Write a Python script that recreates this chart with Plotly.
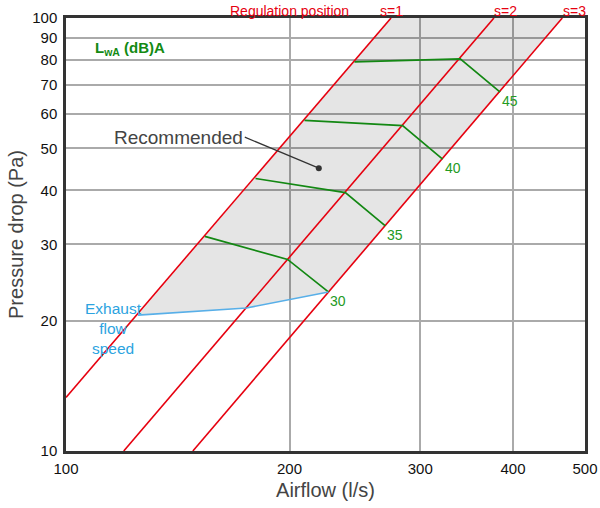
import math
import plotly.graph_objects as go

# Airflow (l/s) and pressure drop (Pa) end points of the regulation position lines
reg_labels = ["s=1", "s=2", "s=3"]
reg_q = [[100, 274], [119.6, 377], [148.2, 466]]
reg_p = [[13.3, 100], [10, 100], [10, 100]]

# Exhaust flow speed limit (lower edge of the recommended area)
exhaust_q = [125, 175, 225.6]
exhaust_p = [20.6, 21.4, 23.3]

# Sound power level curves LwA, dB(A): points on s=1, s=2, s=3
lwa_levels = ["30", "35", "40", "45"]
lwa_q = [
    [153.8, 198.8, 225.6],
    [180.0, 237.8, 269.2],
    [209.5, 284.0, 321.5],
    [244.6, 339.6, 384.3],
]
lwa_p = [
    [31.3, 27.7, 23.3],
    [42.6, 39.5, 33.1],
    [58.0, 56.4, 47.2],
    [79.2, 80.5, 67.4],
]

# Recommended operating point
rec_q = [219]
rec_p = [45]

x_ticks = [100, 200, 300, 400, 500]
y_ticks = [10, 20, 30, 40, 50, 60, 70, 80, 90, 100]

RED = "#e6000f"
GREEN_LINE = "#138813"
GREEN_TEXT = "#239a23"
BLUE_LINE = "#58afe8"
BLUE_TEXT = "#2ba3e0"
FONT = "Liberation Sans, Arial, Helvetica, sans-serif"

fig = go.Figure()

# Shaded recommended area: between s=1 and s=3, above the exhaust limit
area_q = exhaust_q[:1] + [reg_q[0][1], reg_q[2][1]] + exhaust_q[::-1]
area_p = exhaust_p[:1] + [reg_p[0][1], reg_p[2][1]] + exhaust_p[::-1]
fig.add_trace(go.Scatter(
    x=area_q, y=area_p, mode="lines", fill="toself",
    fillcolor="rgba(0,0,0,0.10)", line=dict(width=0),
    hoverinfo="skip", showlegend=False,
))

for q, p in zip(reg_q, reg_p):
    fig.add_trace(go.Scatter(
        x=q, y=p, mode="lines", line=dict(color=RED, width=1.6),
        hoverinfo="skip", showlegend=False,
    ))

for q, p in zip(lwa_q, lwa_p):
    fig.add_trace(go.Scatter(
        x=q, y=p, mode="lines", line=dict(color=GREEN_LINE, width=1.7),
        hoverinfo="skip", showlegend=False,
    ))

fig.add_trace(go.Scatter(
    x=exhaust_q, y=exhaust_p, mode="lines",
    line=dict(color=BLUE_LINE, width=1.6),
    hoverinfo="skip", showlegend=False,
))

fig.add_trace(go.Scatter(
    x=rec_q, y=rec_p, mode="markers",
    marker=dict(color="#333333", size=6),
    hoverinfo="skip", showlegend=False,
))

annotations = []

# Level labels at the s=3 end of each curve
for lab, q, p in zip(lwa_levels, lwa_q, lwa_p):
    annotations.append(dict(
        x=math.log10(q[-1]), y=math.log10(p[-1]), xref="x", yref="y",
        text=lab, showarrow=False, xanchor="left", yanchor="top",
        xshift=0, yshift=1,
        font=dict(family=FONT, size=14, color=GREEN_TEXT),
    ))

# Regulation position header
annotations.append(dict(
    x=0.4306, y=1, xref="paper", yref="paper", text="Regulation position",
    showarrow=False, xanchor="center", yanchor="middle", yshift=7,
    font=dict(family=FONT, size=14, color=RED),
))
for lab, xp in zip(reg_labels, [0.628, 0.846, 0.979]):
    annotations.append(dict(
        x=xp, y=1, xref="paper", yref="paper", text=lab,
        showarrow=False, xanchor="center", yanchor="middle", yshift=7,
        font=dict(family=FONT, size=14, color=RED),
    ))

annotations.append(dict(
    x=0.052, y=0.9307, xref="paper", yref="paper",
    text="<b>L<sub>wA</sub> (dB)A</b>", showarrow=False,
    xanchor="left", yanchor="middle",
    font=dict(family=FONT, size=15, color="#138a13"),
))

annotations.append(dict(
    x=math.log10(rec_q[0]), y=math.log10(rec_p[0]), xref="x", yref="y",
    text="Recommended", showarrow=True, arrowhead=0, arrowwidth=1.2,
    arrowcolor="#333333", ax=-74, ay=-31, xanchor="right", yanchor="middle",
    standoff=0,
    font=dict(family=FONT, size=19, color="#444444"),
))

annotations.append(dict(
    x=0.0906, y=0.2818, xref="paper", yref="paper",
    text="Exhaust<br>flow<br>speed", showarrow=False,
    xanchor="center", yanchor="middle", align="center",
    font=dict(family=FONT, size=15.5, color=BLUE_TEXT),
))

axis_common = dict(
    type="log", showline=True, linecolor="#333333", linewidth=2.5,
    mirror=True, showgrid=True, gridcolor="#aaaaaa", gridwidth=1.5,
    zeroline=False, ticks="outside", tickcolor="rgba(0,0,0,0)",
    tickfont=dict(family=FONT, size=15, color="#111111"),
    automargin=False,
)

fig.update_layout(
    width=600, height=508,
    margin=dict(l=66, r=15, t=18, b=57),
    paper_bgcolor="white", plot_bgcolor="white",
    showlegend=False,
    xaxis=dict(
        axis_common, range=[2, math.log10(500)], ticklen=2,
        tickvals=x_ticks, ticktext=[str(v) for v in x_ticks],
        title=dict(text="Airflow (l/s)", standoff=8,
                   font=dict(family=FONT, size=20, color="#444444")),
    ),
    yaxis=dict(
        axis_common, range=[1, 2], ticklen=3,
        tickvals=y_ticks, ticktext=[str(v) for v in y_ticks],
        title=dict(text="Pressure drop (Pa)", standoff=4,
                   font=dict(family=FONT, size=20, color="#444444")),
    ),
    annotations=annotations,
)

fig.write_html("out.html")
